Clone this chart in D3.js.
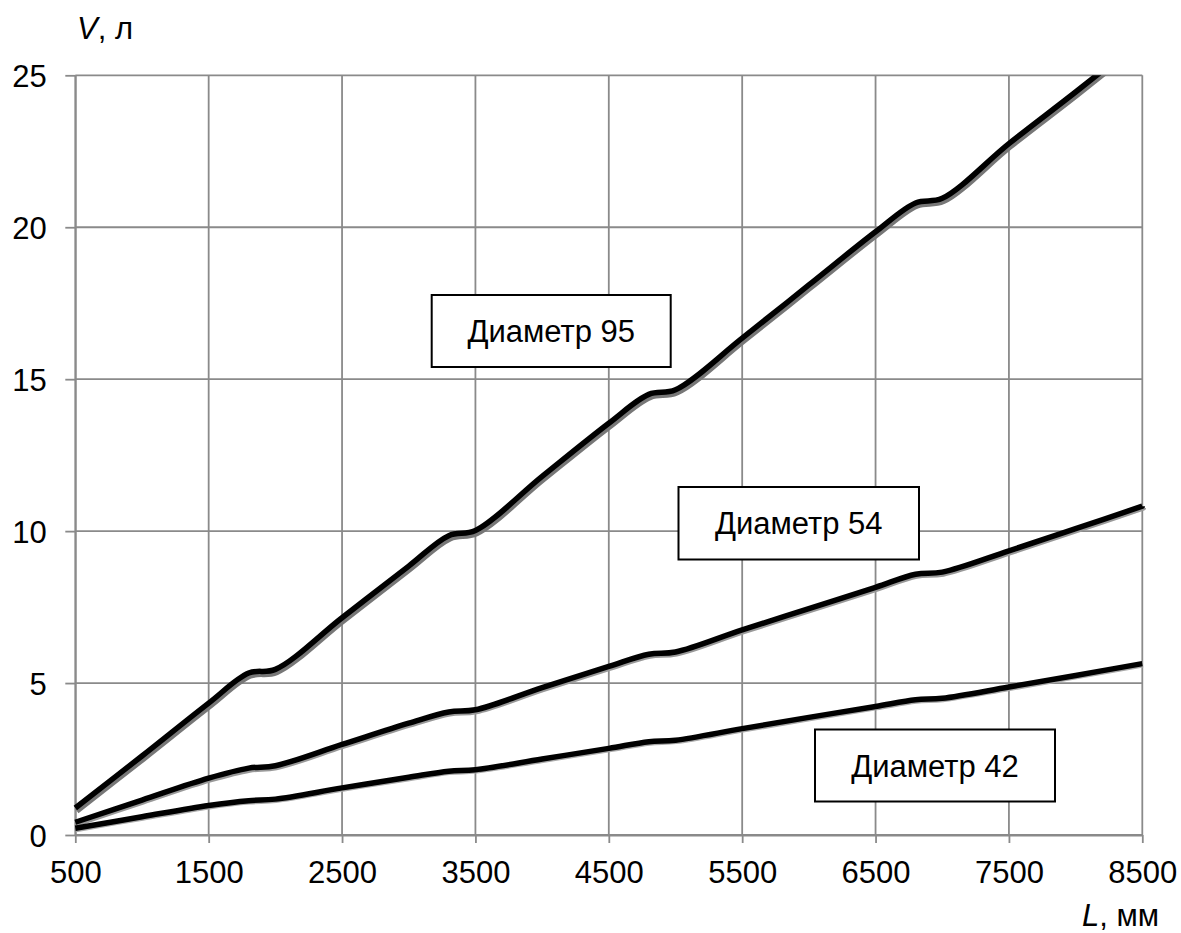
<!DOCTYPE html>
<html>
<head>
<meta charset="utf-8">
<script src="https://cdn.jsdelivr.net/npm/d3@7"></script>
<style>
  html, body { margin: 0; padding: 0; background: #fff; }
  svg { display: block; font-family: "Liberation Sans", Arial, sans-serif; }
</style>
</head>
<body>
<svg id="chart" width="1181" height="933"></svg>
<script>
// ---- Data ----
const lengths = [500, 1000, 1500, 1800, 2000, 2500, 3000, 3300, 3500, 4000, 4500, 4800, 5000, 5500, 6000, 6500, 6800, 7000, 7500, 8000, 8500];
const d95 = [0.89, 2.6, 4.34, 5.33, 5.45, 7.15, 8.85, 9.85, 10.02, 11.8, 13.55, 14.5, 14.65, 16.35, 18.1, 19.85, 20.8, 20.95, 22.75, 24.45, 26.2];
const d54 = [0.42, 1.15, 1.87, 2.2, 2.28, 2.98, 3.68, 4.05, 4.12, 4.85, 5.55, 5.95, 6.02, 6.75, 7.45, 8.15, 8.58, 8.65, 9.35, 10.08, 10.82];
const d42 = [0.22, 0.6, 0.97, 1.13, 1.18, 1.55, 1.9, 2.1, 2.15, 2.5, 2.85, 3.07, 3.12, 3.5, 3.87, 4.23, 4.45, 4.5, 4.87, 5.25, 5.64];
const seriesNames = ["Диаметр 95", "Диаметр 54", "Диаметр 42"];
const xTicks = [500, 1500, 2500, 3500, 4500, 5500, 6500, 7500, 8500];
const yTicks = [0, 5, 10, 15, 20, 25];

// ---- Layout ----
const svg = d3.select("#chart");
const x = d3.scaleLinear().domain([500, 8500]).range([75.3, 1142.3]);
const y = d3.scaleLinear().domain([0, 25]).range([835, 75.3]);
const gridColor = "#8a8a8a";
const fontSize = 31;
const ff = "Liberation Sans, Arial, sans-serif";

// grid
svg.append("g").selectAll("line.v").data(xTicks).join("line")
  .attr("x1", d => x(d)).attr("x2", d => x(d))
  .attr("y1", y(25)).attr("y2", y(0))
  .attr("stroke", gridColor).attr("stroke-width", 1.8);
svg.append("g").selectAll("line.h").data(yTicks).join("line")
  .attr("x1", x(500)).attr("x2", x(8500))
  .attr("y1", d => y(d)).attr("y2", d => y(d))
  .attr("stroke", gridColor).attr("stroke-width", 1.8);

// axes
const xAxis = svg.append("g").attr("transform", `translate(0,${y(0)})`)
  .call(d3.axisBottom(x).tickValues(xTicks).tickSize(8).tickSizeOuter(0).tickFormat(d3.format("d")));
xAxis.select(".domain").attr("stroke", gridColor).attr("stroke-width", 1.8);
xAxis.selectAll(".tick line").attr("stroke", gridColor).attr("stroke-width", 1.8);
xAxis.selectAll(".tick text").attr("y", 48).attr("dy", 0)
  .attr("font-size", fontSize).attr("fill", "#000").attr("font-family", ff);

const yAxis = svg.append("g").attr("transform", `translate(${x(500)},0)`)
  .call(d3.axisLeft(y).tickValues(yTicks).tickSize(10).tickSizeOuter(0).tickFormat(d3.format("d")));
yAxis.select(".domain").attr("stroke", gridColor).attr("stroke-width", 1.8);
yAxis.selectAll(".tick line").attr("stroke", gridColor).attr("stroke-width", 1.8);
yAxis.selectAll(".tick text").attr("x", -28.5).attr("dy", "0.36em")
  .attr("font-size", fontSize).attr("fill", "#000").attr("font-family", ff);

// clip at top of plot
svg.append("defs").append("clipPath").attr("id", "plotclip")
  .append("rect").attr("x", 0).attr("y", y(25)).attr("width", 1181).attr("height", 933 - y(25));

const line = d3.line()
  .x((d, i) => x(lengths[i]))
  .y(d => y(d))
  .curve(d3.curveCatmullRom.alpha(0.5));

const series = [
  { values: d95, shadow: "#777", dx: 1.5, dy: 3 },
  { values: d54, shadow: "#999", dx: 1, dy: 1.8 },
  { values: d42, shadow: "#aaa", dx: 0.6, dy: 1.2 }
];

const lines = svg.append("g").attr("clip-path", "url(#plotclip)");
series.forEach(s => {
  lines.append("path").attr("d", line(s.values))
    .attr("transform", `translate(${s.dx},${s.dy})`)
    .attr("fill", "none").attr("stroke", s.shadow).attr("stroke-width", 5.5)
    .attr("stroke-linejoin", "round");
  lines.append("path").attr("d", line(s.values))
    .attr("fill", "none").attr("stroke", "#000").attr("stroke-width", 5.5)
    .attr("stroke-linejoin", "round");
});

// label boxes
const boxes = [
  { name: seriesNames[0], x: 431.7, y: 295, w: 239, h: 72 },
  { name: seriesNames[1], x: 678.5, y: 487, w: 240.5, h: 72.5 },
  { name: seriesNames[2], x: 815, y: 729.5, w: 240, h: 72 }
];
const bg = svg.append("g");
boxes.forEach(b => {
  bg.append("rect").attr("x", b.x).attr("y", b.y).attr("width", b.w).attr("height", b.h)
    .attr("fill", "#fff").attr("stroke", "#000").attr("stroke-width", 2);
  bg.append("text").attr("x", b.x + b.w / 2).attr("y", b.y + b.h / 2)
    .attr("dy", "0.36em").attr("text-anchor", "middle")
    .attr("font-size", fontSize).attr("fill", "#000").text(b.name);
});

// axis titles
const vt = svg.append("text").attr("x", 77).attr("y", 39).attr("font-size", fontSize).attr("fill", "#000");
vt.append("tspan").attr("font-style", "italic").text("V");
vt.append("tspan").text(", л");
const lt = svg.append("text").attr("x", 1082).attr("y", 926).attr("font-size", fontSize).attr("fill", "#000");
lt.append("tspan").attr("font-style", "italic").text("L");
lt.append("tspan").text(", мм");
</script>
</body>
</html>
